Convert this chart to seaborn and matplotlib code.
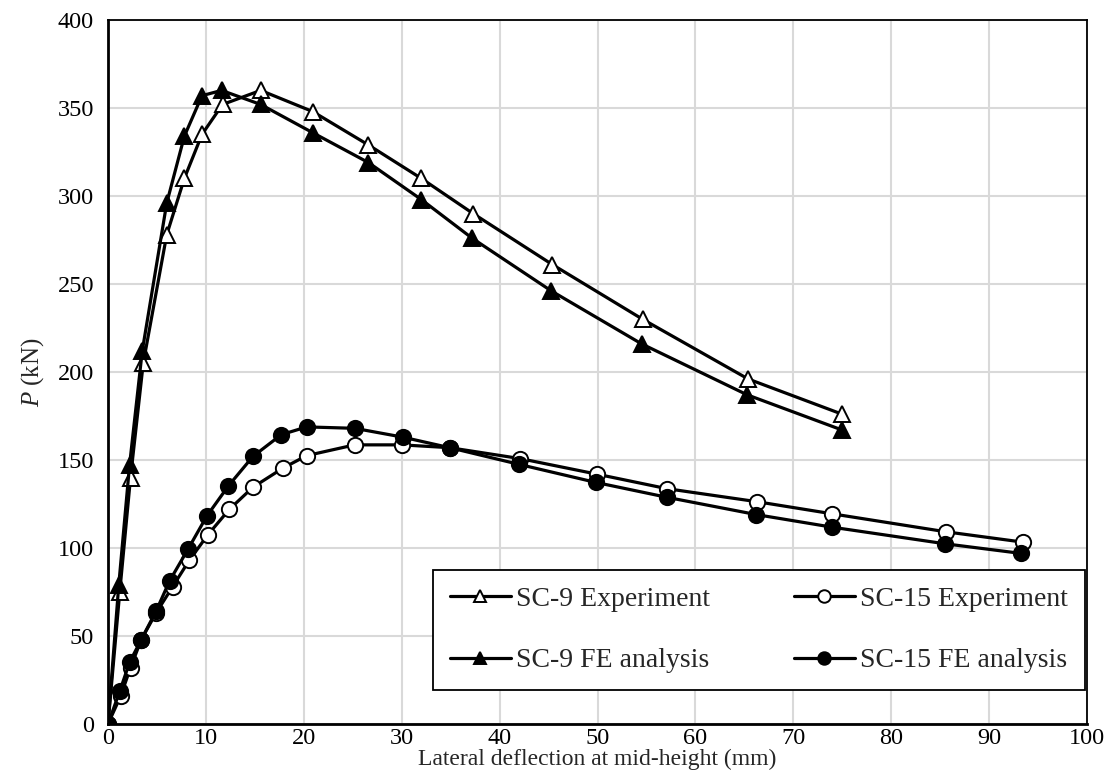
import matplotlib
matplotlib.use("Agg")
import matplotlib.pyplot as plt
import seaborn as sns
import pandas as pd

# SC-9 Experiment
sc9_exp_x = [0, 1.2, 2.3, 3.6, 6.0, 7.8, 9.6, 11.7, 15.6, 20.9, 26.6, 32.0, 37.3, 45.4, 54.6, 65.4, 75.0]
sc9_exp_p = [0, 75, 140, 205, 278, 310, 335, 352, 360, 348, 329, 310, 290, 261, 230, 196, 176]
# SC-9 FE analysis
sc9_fe_x = [0, 1.1, 2.2, 3.5, 6.0, 7.8, 9.6, 11.6, 15.6, 20.9, 26.6, 32.0, 37.2, 45.3, 54.5, 65.3, 75.0]
sc9_fe_p = [0, 79, 147, 212, 296, 334, 357, 360, 352, 336, 319, 298, 276, 246, 216, 187, 167]
# SC-15 Experiment
sc15_exp_x = [0, 1.3, 2.3, 3.4, 4.9, 6.6, 8.3, 10.2, 12.4, 14.8, 17.9, 20.3, 25.2, 30.0, 34.9, 42.1, 49.9, 57.1, 66.3, 74.0, 85.6, 93.5]
sc15_exp_p = [0, 16, 32, 48, 63, 78, 93, 107.5, 122, 134.5, 145.5, 152.5, 158.6, 158.6, 157, 150.8, 142, 133.7, 126.3, 119.4, 109.2, 103.3]
# SC-15 FE analysis
sc15_fe_x = [0, 1.2, 2.2, 3.4, 4.9, 6.3, 8.2, 10.1, 12.3, 14.8, 17.7, 20.3, 25.2, 30.1, 34.9, 42.0, 49.8, 57.1, 66.2, 74.0, 85.5, 93.3]
sc15_fe_p = [0, 18.6, 35, 48, 64, 81.4, 99.6, 118.2, 135.3, 152, 164.4, 168.8, 168, 163, 157, 147.5, 137.3, 128.8, 119, 111.8, 102.4, 96.9]

series_labels = ["SC-9 Experiment", "SC-15 Experiment", "SC-9 FE analysis", "SC-15 FE analysis"]
x_ticks = [0, 10, 20, 30, 40, 50, 60, 70, 80, 90, 100]
y_ticks = [0, 50, 100, 150, 200, 250, 300, 350, 400]

sns.set_theme(style="white")
plt.rcParams["font.family"] = ["Liberation Serif", "DejaVu Serif"]
plt.rcParams["mathtext.fontset"] = "custom"
plt.rcParams["mathtext.it"] = "Liberation Serif:italic"
plt.rcParams["mathtext.rm"] = "Liberation Serif"

W, H = 1118, 778
L, R, T, B = 108, 1087, 20, 724
fig = plt.figure(figsize=(W / 100, H / 100), dpi=100)
ax = fig.add_axes([L / W, 1 - B / H, (R - L) / W, (B - T) / H])

frames = [
    (sc9_exp_x, sc9_exp_p, series_labels[0], "^", "white"),
    (sc15_exp_x, sc15_exp_p, series_labels[1], "o", "white"),
    (sc9_fe_x, sc9_fe_p, series_labels[2], "^", "black"),
    (sc15_fe_x, sc15_fe_p, series_labels[3], "o", "black"),
]
for xs, ps, lab, mk, fc in frames:
    df = pd.DataFrame({"x": xs, "p": ps})
    sns.lineplot(data=df, x="x", y="p", ax=ax, color="black", linewidth=2.3,
                 marker=mk, markersize=11,
                 markerfacecolor=fc, markeredgecolor="black", markeredgewidth=1.4,
                 label=lab, sort=False, estimator=None, zorder=3)

ax.set_xlim(0, 100)
ax.set_ylim(0, 400)
ax.set_xticks(x_ticks)
ax.set_yticks(y_ticks)
ax.grid(True, color="#d9d9d9", linewidth=1.5)
ax.set_axisbelow(True)
for s in ["top", "right"]:
    ax.spines[s].set_color("black")
    ax.spines[s].set_linewidth(1.3)
for s in ["left", "bottom"]:
    ax.spines[s].set_color("black")
    ax.spines[s].set_linewidth(2.0)
ax.tick_params(axis="both", labelsize=17.5, length=0, colors="black")
ax.tick_params(axis="x", pad=3)
ax.tick_params(axis="y", pad=10)
ax.set_xlabel("Lateral deflection at mid-height (mm)", fontsize=17, labelpad=0)
ax.set_ylabel("$P$ (kN)", fontsize=18, labelpad=8)

handles, labels = ax.get_legend_handles_labels()
order = [0, 2, 1, 3]
leg = ax.legend([handles[i] for i in order], [labels[i] for i in order],
                loc="lower right", bbox_to_anchor=((1085 - L) / (R - L), (B - 690) / (B - T)),
                ncol=2, fontsize=20, frameon=True, fancybox=False,
                edgecolor="black", framealpha=1, borderaxespad=0,
                handlelength=2.2, handletextpad=0.2, columnspacing=3.0,
                labelspacing=1.3, borderpad=0.6)
leg.get_frame().set_linewidth(1.3)
for h in leg.legend_handles:
    h.set_markersize(9)

fig.savefig("out.png", dpi=100)
